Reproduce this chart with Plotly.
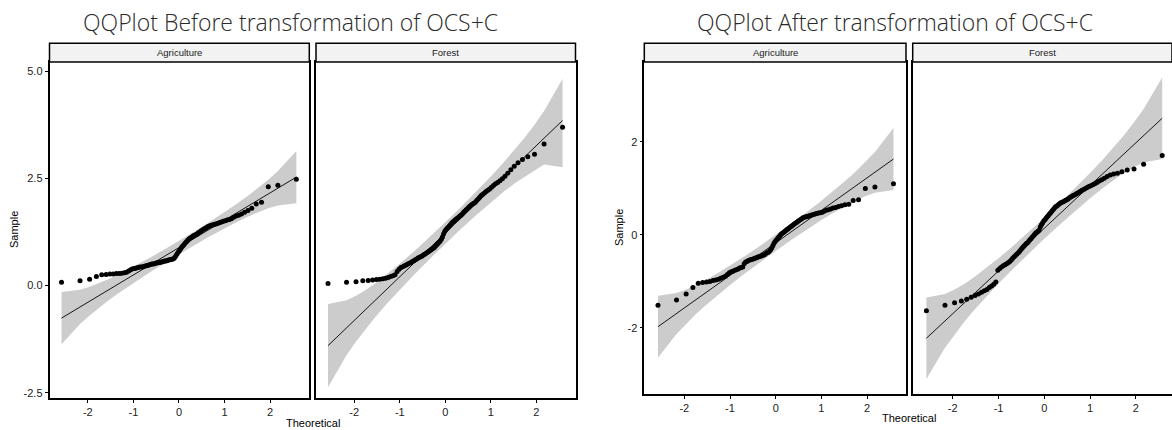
import plotly.graph_objects as go

# Theoretical normal quantiles (n = 100)
THEO = [-2.576, -2.170, -1.960, -1.812, -1.695, -1.598, -1.514, -1.440, -1.372, -1.311,
        -1.254, -1.200, -1.150, -1.103, -1.058, -1.015, -0.974, -0.935, -0.896, -0.860,
        -0.824, -0.789, -0.755, -0.722, -0.690, -0.659, -0.628, -0.598, -0.568, -0.539,
        -0.510, -0.482, -0.454, -0.426, -0.399, -0.372, -0.345, -0.319, -0.292, -0.266,
        -0.240, -0.215, -0.189, -0.164, -0.138, -0.113, -0.088, -0.063, -0.038, -0.013,
        0.013, 0.038, 0.063, 0.088, 0.113, 0.138, 0.164, 0.189, 0.215, 0.240,
        0.266, 0.292, 0.319, 0.345, 0.372, 0.399, 0.426, 0.454, 0.482, 0.510,
        0.539, 0.568, 0.598, 0.628, 0.659, 0.690, 0.722, 0.755, 0.789, 0.824,
        0.860, 0.896, 0.935, 0.974, 1.015, 1.058, 1.103, 1.150, 1.200, 1.254,
        1.311, 1.372, 1.440, 1.514, 1.598, 1.695, 1.812, 1.960, 2.170, 2.576]

# Sample values (sorted) per panel
BEFORE_AGRI = [0.08, 0.11, 0.15, 0.21, 0.25, 0.26, 0.27, 0.27, 0.28, 0.28,
               0.29, 0.30, 0.31, 0.34, 0.37, 0.39, 0.40, 0.41, 0.42, 0.43,
               0.43, 0.44, 0.45, 0.46, 0.47, 0.48, 0.49, 0.50, 0.50, 0.51,
               0.52, 0.53, 0.53, 0.54, 0.55, 0.55, 0.56, 0.57, 0.57, 0.58,
               0.59, 0.60, 0.60, 0.61, 0.62, 0.63, 0.66, 0.70, 0.74, 0.78,
               0.82, 0.86, 0.90, 0.93, 0.96, 0.99, 1.02, 1.05, 1.08, 1.10,
               1.12, 1.14, 1.16, 1.17, 1.19, 1.20, 1.23, 1.25, 1.27, 1.29,
               1.31, 1.33, 1.35, 1.37, 1.38, 1.40, 1.41, 1.42, 1.43, 1.44,
               1.45, 1.47, 1.48, 1.50, 1.51, 1.53, 1.54, 1.56, 1.59, 1.62,
               1.64, 1.67, 1.71, 1.75, 1.80, 1.90, 1.94, 2.30, 2.34, 2.48]
BEFORE_FOREST = [0.05, 0.08, 0.09, 0.11, 0.12, 0.13, 0.14, 0.15, 0.16, 0.17,
                 0.19, 0.21, 0.23, 0.25, 0.33, 0.38, 0.42, 0.44, 0.46, 0.48,
                 0.50, 0.52, 0.54, 0.56, 0.58, 0.60, 0.62, 0.64, 0.66, 0.67,
                 0.69, 0.71, 0.73, 0.75, 0.77, 0.79, 0.81, 0.83, 0.85, 0.87,
                 0.89, 0.92, 0.95, 0.98, 1.01, 1.04, 1.08, 1.13, 1.20, 1.26,
                 1.30, 1.33, 1.36, 1.39, 1.42, 1.45, 1.48, 1.50, 1.53, 1.55,
                 1.57, 1.59, 1.62, 1.64, 1.67, 1.70, 1.73, 1.76, 1.79, 1.82,
                 1.85, 1.88, 1.90, 1.92, 1.94, 1.98, 2.02, 2.06, 2.10, 2.13,
                 2.16, 2.19, 2.22, 2.25, 2.29, 2.33, 2.37, 2.40, 2.44, 2.49,
                 2.55, 2.62, 2.70, 2.78, 2.86, 2.94, 3.00, 3.06, 3.30, 3.69]
AFTER_AGRI = [-1.51, -1.40, -1.27, -1.13, -1.04, -1.02, -1.01, -1.00, -0.98, -0.97,
              -0.95, -0.93, -0.91, -0.89, -0.85, -0.81, -0.79, -0.78, -0.76, -0.75,
              -0.73, -0.71, -0.70, -0.69, -0.62, -0.58, -0.57, -0.55, -0.54, -0.53,
              -0.52, -0.51, -0.50, -0.49, -0.48, -0.47, -0.46, -0.45, -0.44, -0.43,
              -0.42, -0.40, -0.38, -0.37, -0.35, -0.32, -0.28, -0.23, -0.18, -0.14,
              -0.11, -0.08, -0.05, -0.02, 0.01, 0.03, 0.05, 0.07, 0.09, 0.11,
              0.13, 0.15, 0.17, 0.19, 0.21, 0.23, 0.25, 0.27, 0.29, 0.31,
              0.33, 0.35, 0.37, 0.38, 0.39, 0.40, 0.41, 0.42, 0.43, 0.44,
              0.45, 0.46, 0.47, 0.48, 0.49, 0.51, 0.53, 0.54, 0.56, 0.58,
              0.59, 0.61, 0.63, 0.65, 0.66, 0.74, 0.76, 1.00, 1.03, 1.10]
AFTER_FOREST = [-1.63, -1.51, -1.46, -1.42, -1.38, -1.34, -1.30, -1.27, -1.23, -1.20,
                -1.17, -1.13, -1.10, -1.06, -1.01, -0.76, -0.72, -0.69, -0.66, -0.64,
                -0.62, -0.60, -0.57, -0.54, -0.50, -0.47, -0.44, -0.41, -0.38, -0.35,
                -0.31, -0.28, -0.25, -0.22, -0.19, -0.17, -0.14, -0.11, -0.08, -0.05,
                -0.02, 0.01, 0.04, 0.06, 0.08, 0.10, 0.17, 0.22, 0.26, 0.30,
                0.33, 0.36, 0.39, 0.42, 0.45, 0.48, 0.51, 0.54, 0.57, 0.60,
                0.62, 0.64, 0.66, 0.68, 0.70, 0.71, 0.72, 0.74, 0.75, 0.77,
                0.79, 0.81, 0.83, 0.85, 0.86, 0.88, 0.90, 0.92, 0.94, 0.96,
                0.98, 1.00, 1.02, 1.04, 1.06, 1.08, 1.10, 1.13, 1.16, 1.19,
                1.22, 1.26, 1.29, 1.31, 1.33, 1.36, 1.40, 1.42, 1.52, 1.71]

# Reference lines (endpoints at first/last theoretical quantile)
LINE_X = [-2.576, 2.576]
LINE_BEFORE_AGRI = [-0.758, 2.528]
LINE_BEFORE_FOREST = [-1.400, 3.848]
LINE_AFTER_AGRI = [-1.973, 1.633]
LINE_AFTER_FOREST = [-2.222, 2.510]

# Confidence bands
BAND_Z = [-2.576, -2.170, -1.960, -1.750, -1.550, -1.280, -1.000, -0.670, -0.330, 0.0,
          0.330, 0.670, 1.000, 1.280, 1.550, 1.750, 1.960, 2.170, 2.576]
BAND_BEFORE_AGRI_LO = [-1.367, -0.898, -0.698, -0.513, -0.350, -0.143, 0.059, 0.288, 0.515, 0.729,
                       0.935, 1.142, 1.333, 1.487, 1.624, 1.717, 1.800, 1.866, 1.919]
BAND_BEFORE_AGRI_HI = [-0.149, -0.096, -0.030, 0.053, 0.146, 0.283, 0.437, 0.628, 0.835, 1.041,
                       1.255, 1.482, 1.711, 1.913, 2.120, 2.283, 2.468, 2.668, 3.137]
BAND_BEFORE_FOREST_LO = [-2.372, -1.623, -1.302, -1.009, -0.749, -0.418, -0.094, 0.272, 0.633, 0.974,
                         1.305, 1.634, 1.940, 2.186, 2.403, 2.551, 2.684, 2.820, 2.760]
BAND_BEFORE_FOREST_HI = [-0.428, -0.343, -0.236, -0.103, 0.045, 0.262, 0.508, 0.814, 1.143, 1.474,
                         1.815, 2.176, 2.542, 2.866, 3.197, 3.457, 3.750, 4.071, 4.820]
BAND_AFTER_AGRI_LO = [-2.641, -2.127, -1.906, -1.704, -1.526, -1.299, -1.076, -0.824, -0.576, -0.342,
                      -0.114, 0.112, 0.322, 0.491, 0.640, 0.742, 0.834, 0.907, 0.965]
BAND_AFTER_AGRI_HI = [-1.305, -1.247, -1.174, -1.082, -0.980, -0.831, -0.662, -0.452, -0.226, 0.002,
                      0.236, 0.484, 0.736, 0.959, 1.186, 1.364, 1.566, 1.787, 2.301]
BAND_AFTER_FOREST_LO = [-3.099, -2.423, -2.134, -1.869, -1.635, -1.337, -1.044, -0.715, -0.389, -0.081,
                        0.217, 0.513, 0.790, 1.011, 1.207, 1.341, 1.460, 1.557, 1.633]
BAND_AFTER_FOREST_HI = [-1.345, -1.269, -1.172, -1.053, -0.919, -0.723, -0.502, -0.225, 0.071, 0.369,
                        0.677, 1.003, 1.332, 1.625, 1.923, 2.157, 2.422, 2.711, 3.387]

STRIPS = ["Agriculture", "Forest", "Agriculture", "Forest"]
TITLES = ["QQPlot Before transformation of OCS+C", "QQPlot After transformation of OCS+C"]
X_TICKS = [-2, -1, 0, 1, 2]
X_TICKLABELS = ["-2", "-1", "0", "1", "2"]
Y_TICKS_BEFORE = [-2.5, 0.0, 2.5, 5.0]
Y_TICKLABELS_BEFORE = ["-2.5", "0.0", "2.5", "5.0"]
Y_TICKS_AFTER = [-2, 0, 2]
Y_TICKLABELS_AFTER = ["-2", "0", "2"]

W, H = 1172, 430


def px(x):
    return x / W


def py(y):
    return 1 - y / H


panels = [
    dict(sample=BEFORE_AGRI, line=LINE_BEFORE_AGRI, lo=BAND_BEFORE_AGRI_LO, hi=BAND_BEFORE_AGRI_HI,
         xd=[px(49.5), px(309.3)], yd=[py(398), py(62)], xr=[-2.84, 2.86], yr=[-2.62, 5.21]),
    dict(sample=BEFORE_FOREST, line=LINE_BEFORE_FOREST, lo=BAND_BEFORE_FOREST_LO, hi=BAND_BEFORE_FOREST_HI,
         xd=[px(316), px(575.5)], yd=[py(398), py(62)], xr=[-2.84, 2.86], yr=[-2.62, 5.21]),
    dict(sample=AFTER_AGRI, line=LINE_AFTER_AGRI, lo=BAND_AFTER_AGRI_LO, hi=BAND_AFTER_AGRI_HI,
         xd=[px(644.3), px(906)], yd=[py(394), py(62)], xr=[-2.875, 2.85], yr=[-3.42, 3.72]),
    dict(sample=AFTER_FOREST, line=LINE_AFTER_FOREST, lo=BAND_AFTER_FOREST_LO, hi=BAND_AFTER_FOREST_HI,
         xd=[px(912.7), 1.0], yd=[py(394), py(62)], xr=[-2.875, 2.79], yr=[-3.42, 3.72]),
]

fig = go.Figure()
layout = dict(width=W, height=H, margin=dict(l=0, r=0, t=0, b=0),
              paper_bgcolor="white", plot_bgcolor="white", showlegend=False)
shapes = []
annotations = []
tickfont = dict(family="Liberation Sans, Arial, sans-serif", size=11, color="#222222")

for i, p in enumerate(panels):
    k = "" if i == 0 else str(i + 1)
    xa, ya = "x" + k, "y" + k
    fig.add_trace(go.Scatter(x=BAND_Z + BAND_Z[::-1], y=p["hi"] + p["lo"][::-1],
                             fill="toself", fillcolor="#cccccc", line=dict(width=0),
                             mode="lines", hoverinfo="skip", xaxis=xa, yaxis=ya))
    fig.add_trace(go.Scatter(x=LINE_X, y=p["line"], mode="lines",
                             line=dict(color="black", width=0.9), xaxis=xa, yaxis=ya))
    fig.add_trace(go.Scatter(x=THEO, y=p["sample"], mode="markers",
                             marker=dict(color="black", size=5), xaxis=xa, yaxis=ya))
    left = i in (0, 2)
    layout["xaxis" + k] = dict(domain=p["xd"], range=p["xr"], anchor=ya,
                               tickvals=X_TICKS, ticktext=X_TICKLABELS,
                               ticks="outside", ticklen=3, tickcolor="black", tickwidth=1,
                               showline=True, mirror=True, linecolor="black", linewidth=1.5,
                               showgrid=False, zeroline=False, tickfont=tickfont)
    ydict = dict(domain=p["yd"], range=p["yr"], anchor=xa, showline=True,
                 mirror=(i != 3), linecolor="black", linewidth=1.5,
                 showgrid=False, zeroline=False, tickfont=tickfont)
    if left:
        if i == 0:
            ydict.update(tickvals=Y_TICKS_BEFORE, ticktext=Y_TICKLABELS_BEFORE)
        else:
            ydict.update(tickvals=Y_TICKS_AFTER, ticktext=Y_TICKLABELS_AFTER)
        ydict.update(ticks="outside", ticklen=3, tickcolor="black", tickwidth=1)
    else:
        ydict.update(showticklabels=False, ticks="")
    layout["yaxis" + k] = ydict
    # strip
    shapes.append(dict(type="rect", xref="paper", yref="paper", x0=p["xd"][0], x1=p["xd"][1],
                       y0=py(62), y1=py(43.3), fillcolor="#f2f2f2",
                       line=dict(color="black", width=1.5), layer="above"))
    annotations.append(dict(text=STRIPS[i], xref="paper", yref="paper",
                            x=(p["xd"][0] + p["xd"][1]) / 2, y=py(52.8), showarrow=False,
                            xanchor="center", yanchor="middle",
                            font=dict(family="Liberation Sans, Arial, sans-serif", size=9.5, color="#1a1a1a")))

# titles
for txt, cx in zip(TITLES, [290, 895]):
    annotations.append(dict(text=txt, xref="paper", yref="paper", x=px(cx), y=py(22),
                            showarrow=False, xanchor="center", yanchor="middle",
                            font=dict(family="Open Sans, sans-serif", size=23, color="#2a2a2a", weight=300)))
# axis titles
for sx, sy in [(14, 230), (619, 228)]:
    annotations.append(dict(text="Sample", xref="paper", yref="paper", x=px(sx), y=py(sy),
                            showarrow=False, textangle=-90, xanchor="center", yanchor="middle",
                            font=dict(family="Liberation Sans, Arial, sans-serif", size=11, color="black")))
for tx, ty in [(313, 423), (909, 418)]:
    annotations.append(dict(text="Theoretical", xref="paper", yref="paper", x=px(tx), y=py(ty),
                            showarrow=False, xanchor="center", yanchor="middle",
                            font=dict(family="Liberation Sans, Arial, sans-serif", size=11, color="black")))

layout["shapes"] = shapes
layout["annotations"] = annotations
fig.update_layout(**layout)
fig.write_html("out.html")
